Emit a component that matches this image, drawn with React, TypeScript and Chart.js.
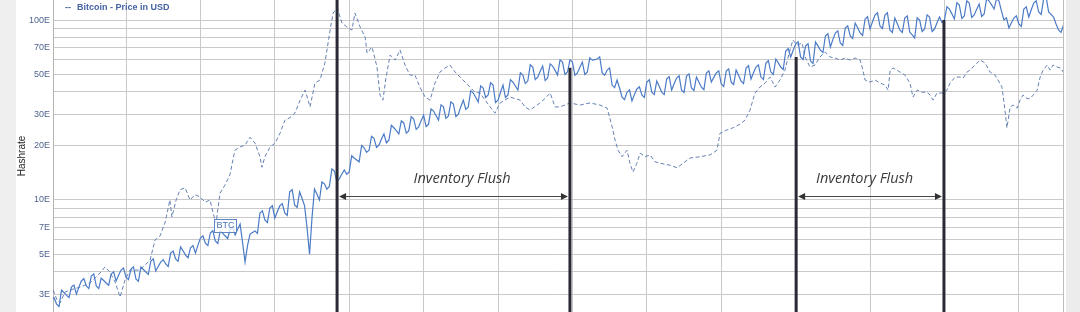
import React, { useEffect, useRef } from 'react';
import { Chart, registerables } from 'chart.js';

Chart.register(...registerables);

// x unit: months since Jan 2017 (gridlines every quarter)
const X_MIN = 0.056;
const X_MAX = 40.78;
const X_GRID_MONTHS = [3, 6, 9, 12, 15, 18, 21, 24, 27, 30, 33, 36, 39];

// Y axis (hashrate, log)
const Y_MIN = 2.386;
const Y_MAX = 129.2;
const Y_GRID_VALUES = [3, 4, 5, 6, 7, 8, 9, 10, 20, 30, 40, 50, 60, 70, 80, 90, 100];
const Y_LABELED = [3, 5, 7, 10, 20, 30, 50, 70, 100];

// Hashrate samples, every 0.1 month starting at month 0
const HASH_START = 0;
const HASH_STEP = 0.1;
const HASHRATE = [
  2.78, 2.86, 2.64, 2.56, 3.16, 3.06, 2.96, 2.87, 3.28, 3.37,
  3.0, 3.28, 3.55, 3.66, 3.33, 3.22, 3.78, 3.89, 3.33, 3.22,
  3.68, 3.57, 3.46, 3.36, 3.88, 3.99, 3.55, 3.82, 4.08, 4.19,
  3.73, 3.61, 4.13, 4.25, 3.64, 3.53, 4.24, 4.11, 3.98, 3.86,
  4.58, 4.71, 4.03, 4.28, 4.52, 4.66, 4.41, 4.27, 5.07, 5.21,
  4.7, 4.56, 5.49, 5.22, 4.94, 4.78, 5.42, 5.58, 5.07, 5.61,
  6.15, 6.33, 5.76, 5.58, 6.56, 6.75, 5.92, 5.73, 6.73, 6.52,
  6.31, 6.11, 6.9, 7.11, 6.39, 6.87, 7.35, 5.8, 4.52, 5.6,
  6.47, 6.6, 6.73, 6.52, 8.47, 8.71, 7.74, 7.5, 9.03, 9.29,
  7.94, 8.61, 9.27, 9.54, 8.47, 8.21, 11.1, 11.4, 9.38, 9.09,
  11.1, 10.2, 9.27, 7.0, 5.0, 8.0, 11.5, 10.75, 10.0, 12.6,
  12.3, 11.5, 11.9, 14.9, 14.5, 12.7, 13.1, 13.9, 14.7, 13.9,
  14.3, 17.6, 17.1, 16.7, 16.3, 20.1, 19.5, 18.4, 18.9, 22.6,
  22.0, 19.6, 20.2, 21.8, 23.3, 20.8, 21.5, 26.0, 25.2, 24.3,
  23.3, 27.5, 26.8, 23.5, 24.2, 29.0, 28.2, 24.7, 25.5, 27.6,
  29.6, 25.6, 26.4, 32.1, 31.2, 29.5, 27.8, 33.8, 32.9, 28.4,
  29.3, 35.1, 34.1, 29.1, 30.0, 33.0, 35.9, 31.9, 32.9, 40.5,
  39.3, 37.2, 35.0, 43.1, 41.9, 37.1, 38.3, 44.8, 43.5, 34.8,
  35.9, 39.7, 43.5, 37.1, 38.3, 46.6, 45.2, 43.0, 40.8, 50.9,
  49.4, 44.4, 45.8, 56.4, 54.8, 46.7, 48.2, 51.9, 55.5, 46.1,
  47.6, 57.1, 55.5, 52.5, 49.4, 60.1, 58.4, 49.8, 51.4, 60.1,
  58.4, 49.3, 50.8, 54.6, 58.4, 49.8, 51.4, 61.6, 59.9, 60.3,
  60.7, 62.4, 50.8, 49.3, 52.7, 54.2, 43.5, 42.1, 46.4, 41.9,
  37.3, 36.1, 39.7, 40.9, 35.5, 38.5, 41.4, 42.6, 38.3, 37.1,
  45.2, 46.6, 39.7, 38.5, 45.8, 42.8, 39.7, 38.5, 47.0, 48.4,
  40.8, 44.2, 47.6, 49.0, 40.8, 39.6, 48.8, 50.2, 41.9, 40.6,
  48.2, 45.3, 42.3, 41.0, 50.8, 52.2, 45.2, 48.0, 50.8, 52.2,
  44.1, 42.7, 52.0, 53.5, 45.2, 43.8, 52.7, 49.3, 45.8, 44.4,
  54.1, 55.7, 47.0, 50.9, 54.8, 56.4, 48.2, 46.7, 57.7, 59.4,
  51.4, 49.8, 60.7, 57.8, 54.8, 53.1, 67.3, 69.3, 62.3, 67.9,
  73.5, 75.7, 62.3, 60.4, 71.7, 73.8, 59.2, 57.3, 75.4, 71.8,
  68.1, 66.0, 81.5, 83.9, 70.8, 77.8, 84.7, 87.1, 74.5, 72.2,
  90.3, 92.9, 81.5, 79.0, 96.2, 90.5, 84.7, 82.1, 101.3, 104.3,
  89.1, 97.9, 106.6, 109.7, 92.6, 89.8, 106.6, 109.7, 88.0, 85.3,
  102.6, 95.3, 88.0, 85.3, 102.6, 105.5, 85.7, 82.6, 79.4, 102.9,
  100, 86.3, 89.1, 106.9, 103.9, 86.3, 89.1, 96.5, 103.9, 96.9,
  100, 118.5, 115.1, 108.2, 101.3, 124.8, 121.2, 102.0, 105.3, 127.9,
  124.3, 103.3, 106.6, 114.7, 122.7, 104.7, 108.0, 131.2, 127.5, 121.3,
  115.1, 131.2, 127.5, 112, 100, 102.9, 90.3, 96.5, 102.6, 105.5,
  95.0, 92.1, 115.1, 118.5, 103.9, 114.1, 124.3, 127.9, 110.8, 107.4,
  130.9, 134.7, 110.8, 107.4, 103.9, 95, 88.0, 85.3, 93.8,
];

// Bitcoin price (dashed), read in the chart's plotted units
const PRICE_MONTHS = [
  0.06, 0.22, 0.34, 0.54, 0.74, 1.15, 1.55, 1.75, 1.95, 2.15,
  2.35, 2.56, 2.76, 2.96, 3.16, 3.56, 3.77, 3.97, 4.17, 4.37,
  4.57, 4.77, 4.85, 5.02, 5.18, 5.38, 5.58, 5.78, 5.98, 6.19,
  6.39, 6.51, 6.63, 6.79, 6.99, 7.19, 7.39, 7.6, 7.8, 8.0,
  8.2, 8.4, 8.48, 8.6, 8.81, 9.01, 9.21, 9.41, 9.61, 9.81,
  10.02, 10.22, 10.42, 10.62, 10.82, 11.02, 11.23, 11.35, 11.51, 11.71,
  11.91, 12.11, 12.23, 12.44, 12.64, 12.72, 12.92, 13.12, 13.24, 13.36,
  13.48, 13.65, 13.85, 14.05, 14.25, 14.45, 14.65, 14.85, 15.06, 15.26,
  15.46, 15.66, 15.86, 16.06, 16.27, 16.47, 16.87, 17.07, 17.27, 17.68,
  17.88, 18.08, 18.48, 18.89, 19.09, 19.29, 19.69, 19.89, 20.1, 20.3,
  20.5, 20.9, 21.31, 21.71, 22.11, 22.4, 22.6, 22.72, 22.84, 23.0,
  23.2, 23.32, 23.44, 23.6, 23.73, 23.93, 24.13, 24.33, 24.53, 24.94,
  25.22, 25.46, 25.74, 26.15, 26.55, 26.83, 26.95, 27.23, 27.48, 27.76,
  27.96, 28.16, 28.36, 28.56, 28.77, 28.97, 29.17, 29.37, 29.57, 29.77,
  29.89, 30.06, 30.26, 30.38, 30.58, 30.78, 30.98, 31.19, 31.39, 31.59,
  31.79, 31.99, 32.19, 32.4, 32.6, 32.68, 32.8, 33.0, 33.2, 33.4,
  33.6, 33.73, 33.81, 33.93, 34.21, 34.41, 34.61, 34.73, 34.9, 35.1,
  35.3, 35.42, 35.54, 35.7, 35.94, 36.1, 36.23, 36.43, 36.63, 36.75,
  36.91, 37.03, 37.23, 37.44, 37.64, 37.84, 38.04, 38.16, 38.32, 38.44,
  38.52, 38.65, 38.77, 38.93, 39.05, 39.17, 39.33, 39.45, 39.58, 39.74,
  39.86, 39.98, 40.14, 40.26, 40.38, 40.54, 40.69, 40.81,
];
const PRICE_VALUES = [
  3.16, 2.78, 2.68, 3.08, 3.16, 3.28, 3.46, 3.68, 3.93, 4.24,
  3.98, 3.5, 2.89, 3.59, 4.08, 4.08, 4.35, 4.64, 5.99, 6.31,
  7.45, 10.0, 8.04, 10.0, 11.4, 11.7, 10.0, 10.7, 10.4, 9.72,
  10.0, 8.47, 7.45, 10.9, 12.1, 13.8, 18.9, 19.7, 20.2, 22.3,
  20.7, 17.4, 15.2, 17.4, 19.7, 20.7, 23.5, 27.8, 28.7, 30.4,
  35.9, 40.8, 32.9, 44.7, 46.4, 57.7, 88.0, 109.4, 116.6, 96.2,
  91.4, 88.0, 109.4, 91.4, 80.4, 65.6, 70.8, 54.8, 38.3, 35.9,
  47.6, 63.9, 59.9, 68.1, 56.2, 49.4, 49.4, 42.4, 37.3, 35.9,
  44.7, 51.4, 54.1, 56.2, 51.4, 48.2, 42.4, 39.7, 39.3, 32.9,
  30.4, 34.6, 37.3, 35.9, 32.9, 31.6, 34.6, 36.6, 39.3, 32.9,
  32.9, 34.6, 33.7, 34.6, 33.7, 32.4, 25.5, 21.5, 18.9, 17.4,
  18.9, 16.0, 14.3, 16.0, 18.2, 17.4, 17.8, 16.3, 16.0, 15.6,
  15.1, 16.0, 17.1, 17.4, 17.8, 18.9, 23.5, 24.5, 25.2, 26.4,
  27.8, 31.6, 39.3, 42.4, 44.7, 48.2, 42.4, 46.4, 52.7, 68.1,
  77.4, 72.6, 74.5, 62.3, 54.8, 56.2, 62.3, 66.5, 62.3, 61.5,
  59.9, 61.5, 59.9, 61.5, 59.9, 54.8, 46.4, 45.2, 46.4, 44.7,
  43.5, 40.8, 52.7, 54.1, 51.4, 49.4, 44.7, 37.3, 40.8, 39.7,
  39.7, 38.3, 35.9, 39.3, 39.3, 40.8, 44.7, 48.2, 48.2, 47.6,
  51.4, 52.7, 56.2, 59.9, 57.7, 51.4, 49.4, 46.4, 42.4, 31.6,
  25.2, 32.9, 33.7, 32.4, 35.9, 38.3, 36.6, 36.6, 38.3, 40.8,
  48.2, 52.7, 56.2, 52.7, 56.2, 54.8, 54.1, 50.8,
];

// Event markers (vertical black lines)
const EVENT_MONTHS = [11.51, 20.9, 30.02, 35.98];
const EVENT_TOPS = [200, 54.3, 62.3, 100];
const EVENT_BOTTOM = 1;

// "Inventory Flush" spans
const FLUSH_STARTS = [11.51, 30.02];
const FLUSH_ENDS = [20.9, 35.98];
const FLUSH_TEXT_MONTHS = [16.55, 32.78];
const FLUSH_LABEL = 'Inventory Flush';
const FLUSH_ARROW_VALUE = 10.5;
const FLUSH_TEXT_VALUE = 13.1;

// "BTC" tag
const BTC_TAG = 'BTC';
const BTC_TAG_MONTH = 7.01;
const BTC_TAG_VALUE = 7.2;

const LEGEND_TEXT = 'Bitcoin - Price in USD';
const Y_TITLE = 'Hashrate';

const GRID = '#c9c9c9';

const decorPlugin = {
  id: 'decor',
  beforeDraw(chart: any) {
    const { ctx, width, height } = chart;
    ctx.save();
    ctx.fillStyle = '#ffffff';
    ctx.fillRect(0, 0, width, height);
    ctx.fillStyle = '#efefef';
    ctx.fillRect(0, 0, 16, height);
    ctx.fillStyle = '#ececec';
    ctx.fillRect(1066, 0, width - 1066, height);
    ctx.restore();
  },
  afterDatasetsDraw(chart: any) {
    const { ctx, chartArea } = chart;
    const xs = chart.scales.x;
    const ys = chart.scales.y;
    ctx.save();
    // right plot border
    ctx.strokeStyle = '#bdbdbd';
    ctx.lineWidth = 1;
    ctx.beginPath();
    ctx.moveTo(Math.round(chartArea.right) + 0.5, chartArea.top);
    ctx.lineTo(Math.round(chartArea.right) + 0.5, chartArea.bottom);
    ctx.stroke();

    // Inventory flush arrows and labels
    FLUSH_STARTS.forEach((s, k) => {
      const x1 = xs.getPixelForValue(s) + 2;
      const x2 = xs.getPixelForValue(FLUSH_ENDS[k]) - 2;
      const yy = Math.round(ys.getPixelForValue(FLUSH_ARROW_VALUE)) + 0.5;
      ctx.strokeStyle = '#4a4a4a';
      ctx.fillStyle = '#333333';
      ctx.lineWidth = 1;
      ctx.beginPath();
      ctx.moveTo(x1 + 6, yy);
      ctx.lineTo(x2 - 6, yy);
      ctx.stroke();
      ctx.beginPath();
      ctx.moveTo(x1, yy);
      ctx.lineTo(x1 + 7, yy - 3.5);
      ctx.lineTo(x1 + 7, yy + 3.5);
      ctx.closePath();
      ctx.fill();
      ctx.beginPath();
      ctx.moveTo(x2, yy);
      ctx.lineTo(x2 - 7, yy - 3.5);
      ctx.lineTo(x2 - 7, yy + 3.5);
      ctx.closePath();
      ctx.fill();
      ctx.font = 'italic 14.5px "Open Sans"';
      ctx.fillStyle = '#3a3a3a';
      ctx.textAlign = 'center';
      ctx.textBaseline = 'middle';
      ctx.fillText(
        FLUSH_LABEL,
        xs.getPixelForValue(FLUSH_TEXT_MONTHS[k]),
        ys.getPixelForValue(FLUSH_TEXT_VALUE)
      );
    });

    // BTC tag
    const bx = xs.getPixelForValue(BTC_TAG_MONTH);
    const by = ys.getPixelForValue(BTC_TAG_VALUE);
    ctx.fillStyle = 'rgba(255,255,255,0.75)';
    ctx.fillRect(Math.round(bx - 11) + 0.5, Math.round(by - 7) + 0.5, 22, 13);
    ctx.strokeStyle = '#5c86c4';
    ctx.strokeRect(Math.round(bx - 11) + 0.5, Math.round(by - 7) + 0.5, 22, 13);
    ctx.font = '9px "Liberation Sans", Arial, sans-serif';
    ctx.fillStyle = '#4a72b5';
    ctx.textAlign = 'center';
    ctx.textBaseline = 'middle';
    ctx.fillText(BTC_TAG, bx, by);

    // legend entry
    ctx.font = 'bold 9px "Liberation Sans", Arial, sans-serif';
    ctx.fillStyle = '#4563a5';
    ctx.textAlign = 'left';
    ctx.textBaseline = 'middle';
    ctx.fillText('--', 65, 7.5);
    ctx.fillText(LEGEND_TEXT, 77, 7.5);
    ctx.restore();
  },
};

export default function App() {
  const canvasRef = useRef<HTMLCanvasElement | null>(null);

  useEffect(() => {
    document.body.style.margin = '0';
    const canvas = canvasRef.current;
    if (!canvas) return;

    const hashData = HASHRATE.map((v, i) => ({ x: HASH_START + i * HASH_STEP, y: v }));
    const priceData = PRICE_MONTHS.map((m, i) => ({ x: m, y: PRICE_VALUES[i] }));
    const eventSets = EVENT_MONTHS.map((m, i) => ({
      label: 'event' + i,
      data: [
        { x: m, y: EVENT_TOPS[i] },
        { x: m, y: EVENT_BOTTOM },
      ],
      borderColor: '#2a2a36',
      borderWidth: 3,
      pointRadius: 0,
      order: 0,
    }));

    const chart = new Chart(canvas, {
      type: 'line',
      data: {
        datasets: [
          ...eventSets,
          {
            label: 'Hashrate',
            data: hashData,
            borderColor: '#4b7bc6',
            borderWidth: 1.2,
            pointRadius: 0,
            tension: 0,
            order: 1,
          },
          {
            label: LEGEND_TEXT,
            data: priceData,
            borderColor: '#6582b4',
            borderWidth: 1,
            borderDash: [4, 2.5],
            pointRadius: 0,
            tension: 0,
            order: 2,
          },
        ] as any,
      },
      options: {
        responsive: false,
        animation: false,
        devicePixelRatio: 1,
        events: [],
        layout: { padding: { left: 0, right: 17, top: 0, bottom: 0 } },
        plugins: {
          legend: { display: false },
          tooltip: { enabled: false },
          title: { display: false },
        },
        scales: {
          x: {
            type: 'linear',
            min: X_MIN,
            max: X_MAX,
            bounds: 'data',
            grid: { color: GRID, drawTicks: false, lineWidth: 1 },
            border: { display: false },
            ticks: { display: false },
            afterBuildTicks: (s: any) => {
              s.ticks = X_GRID_MONTHS.map((v) => ({ value: v }));
            },
            afterFit: (s: any) => {
              s.height = 0;
              s.paddingLeft = 0;
              s.paddingRight = 0;
            },
          },
          y: {
            type: 'logarithmic',
            position: 'left',
            min: Y_MIN,
            max: Y_MAX,
            bounds: 'data',
            grid: { color: GRID, drawTicks: false, lineWidth: 1 },
            border: { display: true, color: '#b5b5b5' },
            ticks: {
              autoSkip: false,
              padding: 3,
              color: '#50648e',
              font: { family: '"Liberation Sans", Arial, sans-serif', size: 9 },
              callback: (v: any) => (Y_LABELED.includes(Number(v)) ? `${v}E` : ''),
            },
            title: {
              display: true,
              text: Y_TITLE,
              color: '#1e1e1e',
              font: { family: '"Liberation Sans", Arial, sans-serif', size: 10 },
              padding: { top: 16, bottom: 0 },
            },
            afterBuildTicks: (s: any) => {
              s.ticks = Y_GRID_VALUES.map((v) => ({ value: v }));
            },
            afterFit: (s: any) => {
              s.width = 53;
              s.paddingTop = 0;
              s.paddingBottom = 0;
            },
          },
        },
      } as any,
      plugins: [decorPlugin],
    });

    return () => chart.destroy();
  }, []);

  return (
    <div style={{ width: 1080, height: 312, position: 'relative', overflow: 'hidden' }}>
      <canvas ref={canvasRef} width={1080} height={312} style={{ display: 'block' }} />
    </div>
  );
}
